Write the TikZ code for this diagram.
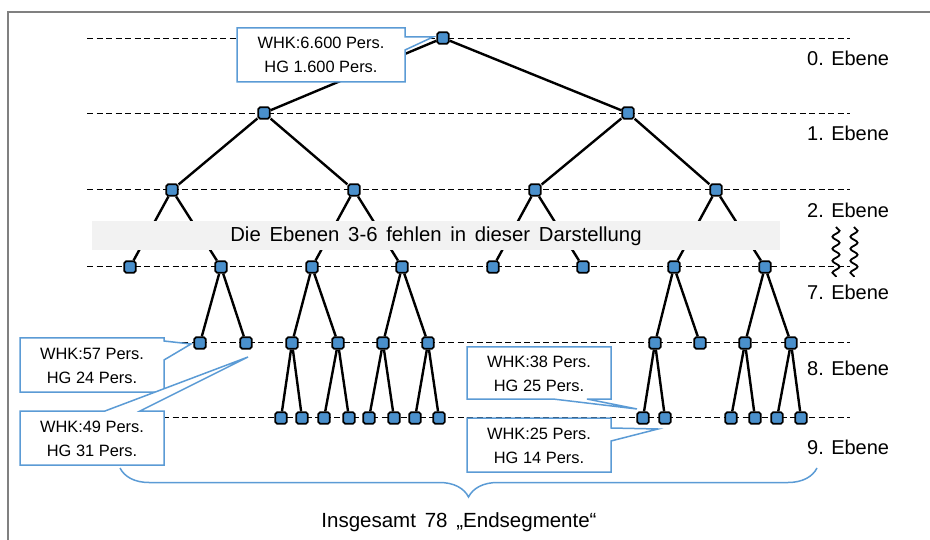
\documentclass[tikz,border=0pt]{standalone}
\usepackage{fontspec}
\setmainfont{Liberation Sans}
\newfontfamily\widefont[WordSpace=1.55]{Liberation Sans}
\usetikzlibrary{decorations.pathmorphing,decorations.pathreplacing}

\definecolor{segblue}{HTML}{4A90CC}
\definecolor{callblue}{HTML}{5B9BD5}
\definecolor{bannergray}{HTML}{F2F2F2}
\definecolor{framegray}{HTML}{808080}

\tikzset{
  seg/.style={rectangle, draw=black, line width=1.7pt, fill=segblue,
    minimum size=11.5pt, inner sep=0pt, rounded corners=1.8pt},
  edge/.style={draw=black, line width=2.4pt},
  levelline/.style={draw=black, line width=0.9pt, dash pattern=on 6pt off 3.5pt},
  callout/.style={draw=callblue, line width=1.5pt, fill=white, line join=miter},
  ctext/.style={font=\fontsize{16.4}{23.5}\selectfont, align=center, inner sep=0pt},
  lvl/.style={font=\fontsize{20}{24}\selectfont, anchor=west, inner sep=0pt},
  wavy/.style={draw=black, line width=1.8pt, decorate,
    decoration={snake, segment length=12pt, amplitude=3.6pt}},
}

\begin{document}
\begin{tikzpicture}[x=1pt, y=-1pt]
  \useasboundingbox (0,0) rectangle (930,540);

  % outer frame (left and top)
  \draw[framegray, line width=2pt] (8,540) -- (8,12.5) -- (930,12.5);

  % dashed level lines
  \foreach \y in {38,113,189,266,342,417}
    \draw[levelline] (87,\y) -- (850,\y);

  % level labels
  \node[lvl] (l0) at (807,58)  {0. Ebene};
  \node[lvl] (l1) at (807,133) {1. Ebene};
  \node[lvl] (l2) at (807,210) {2. Ebene};
  \node[lvl] (l7) at (807,292) {7. Ebene};
  \node[lvl] (l8) at (807,368) {8. Ebene};
  \node[lvl] (l9) at (807,447) {9. Ebene};

  % gap marks between level 2 and level 7
  \coordinate (w1a) at (836,227); \coordinate (w1b) at (836,277);
  \coordinate (w2a) at (854,227); \coordinate (w2b) at (854,277);
  \draw[wavy] (w1a) -- (w1b);
  \draw[wavy] (w2a) -- (w2b);

  % segment nodes
  \node[seg] (r) at (443,38) {};
  \foreach \n/\x in {a1/264,a2/628}
    \node[seg] (\n) at (\x,113) {};
  \foreach \n/\x in {b1/172,b2/354,b3/535,b4/716}
    \node[seg] (\n) at (\x,190) {};
  \foreach \n/\x in {c1/130,c2/221,c3/312,c4/402,c5/493,c6/583,c7/674,c8/765}
    \node[seg] (\n) at (\x,267) {};
  \foreach \n/\x in {d1/200,d2/246,d3/292,d4/338,d5/383,d6/428,d7/655,d8/700,d9/745,d10/791}
    \node[seg] (\n) at (\x,343) {};
  \foreach \n/\x in {e1/281,e2/302,e3/324,e4/349,e5/369,e6/394,e7/415,e8/439,
                     e9/643,e10/665,e11/731,e12/755,e13/777,e14/801}
    \node[seg] (\n) at (\x,418) {};

  % tree edges
  \foreach \a/\b in {r/a1,r/a2,a1/b1,a1/b2,a2/b3,a2/b4,
      b1/c1,b1/c2,b2/c3,b2/c4,b3/c5,b3/c6,b4/c7,b4/c8,
      c2/d1,c2/d2,c3/d3,c3/d4,c4/d5,c4/d6,c7/d7,c7/d8,c8/d9,c8/d10,
      d3/e1,d3/e2,d4/e3,d4/e4,d5/e5,d5/e6,d6/e7,d6/e8,
      d7/e9,d7/e10,d9/e11,d9/e12,d10/e13,d10/e14}
    \draw[edge] (\a) -- (\b);

  % banner hiding levels 3-6
  \fill[bannergray] (92,221.5) rectangle (780,250);
  \node[font=\widefont\fontsize{20.3}{24}\selectfont, inner sep=0pt] (banner) at (436,236)
    {Die Ebenen 3-6 fehlen in dieser Darstellung};

  % callouts
  \draw[callout] (237,28) -- (405,28) -- (405,37) -- (433,37) -- (405,50)
    -- (405,82) -- (237,82) -- cycle;
  \node[ctext] (cA) at (321,55) {WHK:6.600 Pers.\\HG 1.600 Pers.};

  \draw[callout] (20,338) -- (164,338) -- (164,341) -- (191,344) -- (164,360)
    -- (164,392) -- (20,392) -- cycle;
  \node[ctext] (cB) at (92,366) {WHK:57 Pers.\\HG 24 Pers.};

  \draw[callout] (20,411) -- (105,411) -- (248,357) -- (140,411) -- (164,411)
    -- (164,465) -- (20,465) -- cycle;
  \node[ctext] (cC) at (92,439) {WHK:49 Pers.\\HG 31 Pers.};

  \draw[callout] (467,347) -- (611,347) -- (611,399) -- (587,399) -- (637,409)
    -- (553,399) -- (467,399) -- cycle;
  \node[ctext] (cD) at (539,374) {WHK:38 Pers.\\HG 25 Pers.};

  \draw[callout] (467,418) -- (611,418) -- (611,428) -- (658,429) -- (611,441)
    -- (611,472) -- (467,472) -- cycle;
  \node[ctext] (cE) at (539,446) {WHK:25 Pers.\\HG 14 Pers.};

  % brace over all end segments
  \coordinate (brR) at (817,468);
  \coordinate (brL) at (120,468);
  \draw[callblue, line width=1.5pt, decorate,
        decoration={brace, amplitude=29pt}] (brR) -- (brL);
  \node[font=\widefont\fontsize{20.5}{24}\selectfont, inner sep=0pt] (total) at (459,522)
    {Insgesamt 78 „Endsegmente“};
\end{tikzpicture}
\end{document}
